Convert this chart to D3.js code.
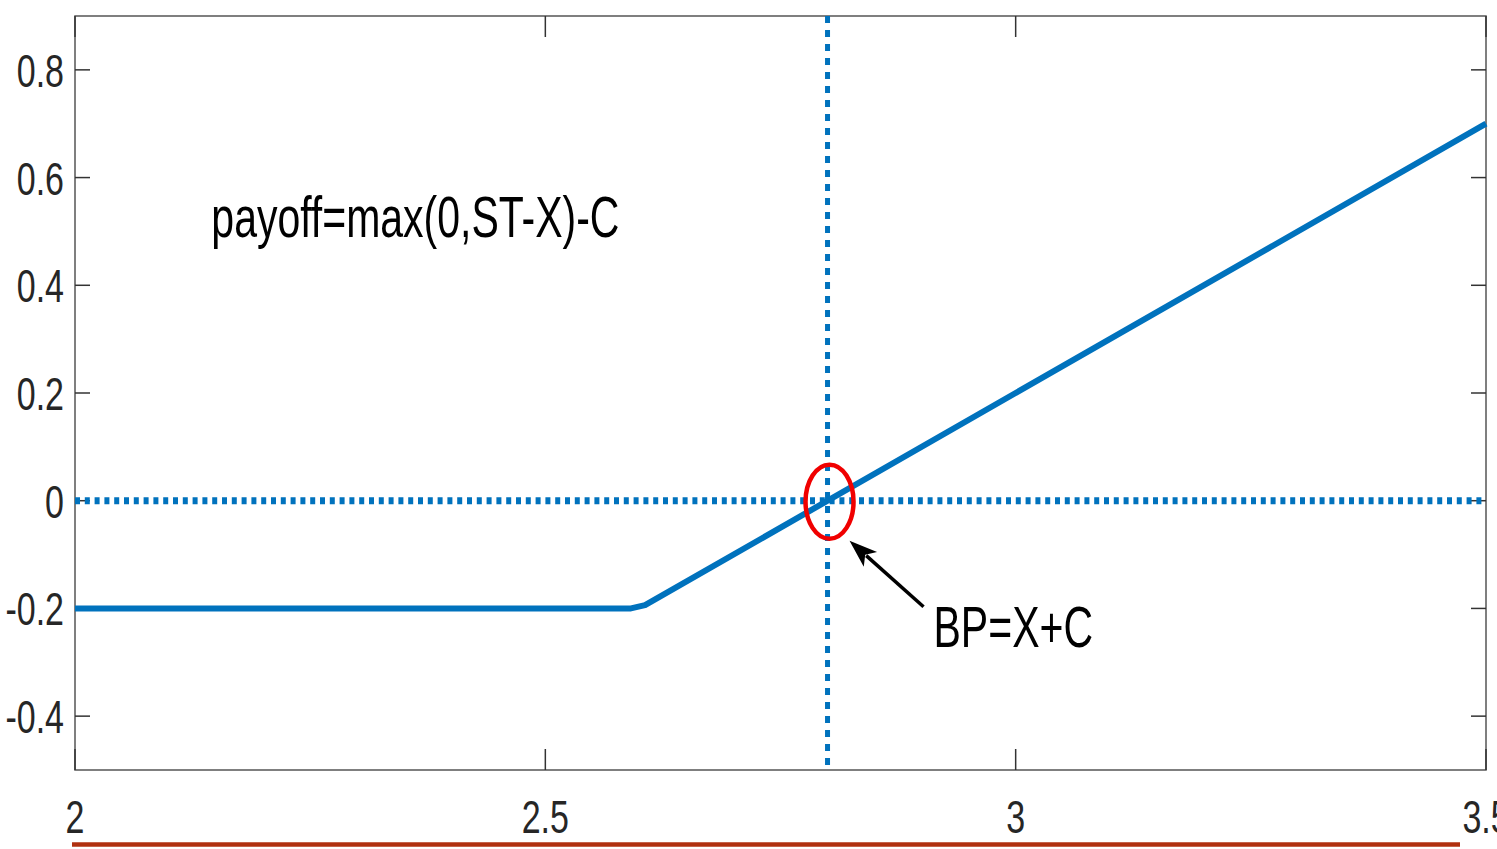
<!DOCTYPE html>
<meta charset="utf-8">
<style>

    body {
        margin: 0;
        background: #fff;
    }

    svg {
        display: block;
        font-family: "Liberation Sans", Arial, sans-serif;
    }

    .frame {
        fill: none;
        stroke: #555;
        stroke-width: 1.5px;
    }

    .tick-mark {
        stroke: #333;
        stroke-width: 1.5px;
    }

    .tick-label {
        fill: #262626;
        font-size: 34px;
    }

    .payoff {
        fill: none;
        stroke: #0072bd;
        stroke-width: 6px;
        stroke-linejoin: round;
    }

    .guide {
        fill: none;
        stroke: #0072bd;
    }

    .note {
        fill: #000;
        font-size: 41px;
    }

</style>

<svg width="1497" height="849"></svg>

<script src="https://cdn.jsdelivr.net/npm/d3@7"></script>
<script>

    // long call: payoff = max(0, ST - X) - C
    var stockPrice = [2, 2.591, 2.606, 3.5];
    var payoff = [-0.2, -0.2, -0.194, 0.7];
    var breakEven = 2.8;
    var zeroLevel = 0;

    var xTicks = [2, 2.5, 3, 3.5],
        xTickLabels = ["2", "2.5", "3", "3.5"];
    var yTicks = [-0.4, -0.2, 0, 0.2, 0.4, 0.6, 0.8],
        yTickLabels = ["-0.4", "-0.2", "0", "0.2", "0.4", "0.6", "0.8"];

    var formulaText = "payoff=max(0,ST-X)-C",
        breakEvenText = "BP=X+C";

    var svg = d3.select("svg"),
        margin = {top: 16, right: 11, bottom: 79, left: 75},
        width = +svg.attr("width") - margin.left - margin.right,
        height = +svg.attr("height") - margin.top - margin.bottom,
        g = svg.append("g").attr("transform", "translate(" + margin.left + "," + margin.top + ")");

    var x = d3.scaleLinear().domain([2, 3.5]).range([0, width]),
        y = d3.scaleLinear().domain([-0.5, 0.9]).range([height, 0]);

    // the original picture is stretched vertically, so text is too
    var stretch = 1.38;

    // axes box
    g.append("rect")
        .attr("class", "frame")
        .attr("width", width)
        .attr("height", height);

    // inward ticks on all four sides
    var xTickLen = 21, yTickLen = 15;

    g.selectAll(".xtick-bottom")
        .data(xTicks)
        .enter().append("line")
        .attr("class", "tick-mark")
        .attr("x1", function(d) { return x(d); })
        .attr("x2", function(d) { return x(d); })
        .attr("y1", height)
        .attr("y2", height - xTickLen);

    g.selectAll(".xtick-top")
        .data(xTicks)
        .enter().append("line")
        .attr("class", "tick-mark")
        .attr("x1", function(d) { return x(d); })
        .attr("x2", function(d) { return x(d); })
        .attr("y1", 0)
        .attr("y2", xTickLen);

    g.selectAll(".ytick-left")
        .data(yTicks)
        .enter().append("line")
        .attr("class", "tick-mark")
        .attr("x1", 0)
        .attr("x2", yTickLen)
        .attr("y1", function(d) { return y(d); })
        .attr("y2", function(d) { return y(d); });

    g.selectAll(".ytick-right")
        .data(yTicks)
        .enter().append("line")
        .attr("class", "tick-mark")
        .attr("x1", width)
        .attr("x2", width - yTickLen)
        .attr("y1", function(d) { return y(d); })
        .attr("y2", function(d) { return y(d); });

    // tick labels
    g.selectAll(".xlabel")
        .data(xTicks)
        .enter().append("text")
        .attr("class", "tick-label")
        .attr("text-anchor", "middle")
        .attr("transform", function(d) {
            return "translate(" + x(d) + "," + (height + 63) + ") scale(1," + stretch + ")";
        })
        .text(function(d, i) { return xTickLabels[i]; });

    g.selectAll(".ylabel")
        .data(yTicks)
        .enter().append("text")
        .attr("class", "tick-label")
        .attr("text-anchor", "end")
        .attr("transform", function(d) {
            return "translate(-11," + (y(d) + 17) + ") scale(1," + stretch + ")";
        })
        .text(function(d, i) { return yTickLabels[i]; });

    // dotted guides at zero payoff and at the break-even price
    g.append("line")
        .attr("class", "guide")
        .attr("x1", 0)
        .attr("x2", width)
        .attr("y1", y(zeroLevel))
        .attr("y2", y(zeroLevel))
        .style("stroke-width", 7)
        .style("stroke-dasharray", "5,4.8");

    g.append("line")
        .attr("class", "guide")
        .attr("x1", x(breakEven))
        .attr("x2", x(breakEven))
        .attr("y1", 0)
        .attr("y2", height)
        .style("stroke-width", 5)
        .style("stroke-dasharray", "7,7");

    // payoff line
    var line = d3.line()
        .x(function(d) { return x(d[0]); })
        .y(function(d) { return y(d[1]); });

    g.append("path")
        .datum(d3.zip(stockPrice, payoff))
        .attr("class", "payoff")
        .attr("d", line);

    // red ring round the break-even point
    g.append("ellipse")
        .attr("cx", x(breakEven) + 2)
        .attr("cy", y(zeroLevel) + 1)
        .attr("rx", 24)
        .attr("ry", 37)
        .style("fill", "none")
        .style("stroke", "#f00000")
        .style("stroke-width", 4.5);

    // arrow from the label up to the ring
    var tip = [x(breakEven) + 22, y(zeroLevel) + 40],
        tail = [x(breakEven) + 96, y(zeroLevel) + 106];
    var dx = tail[0] - tip[0], dy = tail[1] - tip[1],
        len = Math.sqrt(dx * dx + dy * dy),
        ux = dx / len, uy = dy / len,
        headLen = 28, headHalf = 10;

    g.append("line")
        .attr("x1", tail[0])
        .attr("y1", tail[1])
        .attr("x2", tip[0] + ux * headLen * 0.8)
        .attr("y2", tip[1] + uy * headLen * 0.8)
        .style("stroke", "#000")
        .style("stroke-width", 3.5);

    var bx = tip[0] + ux * headLen, by = tip[1] + uy * headLen;
    g.append("path")
        .attr("d", "M" + tip[0] + "," + tip[1] +
            "L" + (bx - uy * headHalf) + "," + (by + ux * headHalf) +
            "L" + (tip[0] + ux * headLen * 0.75) + "," + (tip[1] + uy * headLen * 0.75) +
            "L" + (bx + uy * headHalf) + "," + (by - ux * headHalf) + "Z")
        .style("fill", "#000");

    // annotations
    g.append("text")
        .attr("class", "note")
        .attr("transform", "translate(" + (x(2.146) - 1) + "," + (y(0.48) - 5) + ") scale(1," + stretch + ")")
        .text(formulaText);

    g.append("text")
        .attr("class", "note")
        .attr("transform", "translate(" + (x(breakEven) + 106) + "," + (y(zeroLevel) + 146) + ") scale(1," + stretch + ")")
        .text(breakEvenText);

    // brown rule under the x labels
    svg.append("line")
        .attr("x1", 72)
        .attr("x2", 1460)
        .attr("y1", 844.5)
        .attr("y2", 844.5)
        .style("stroke", "#b0300f")
        .style("stroke-width", 4.5);

</script>
